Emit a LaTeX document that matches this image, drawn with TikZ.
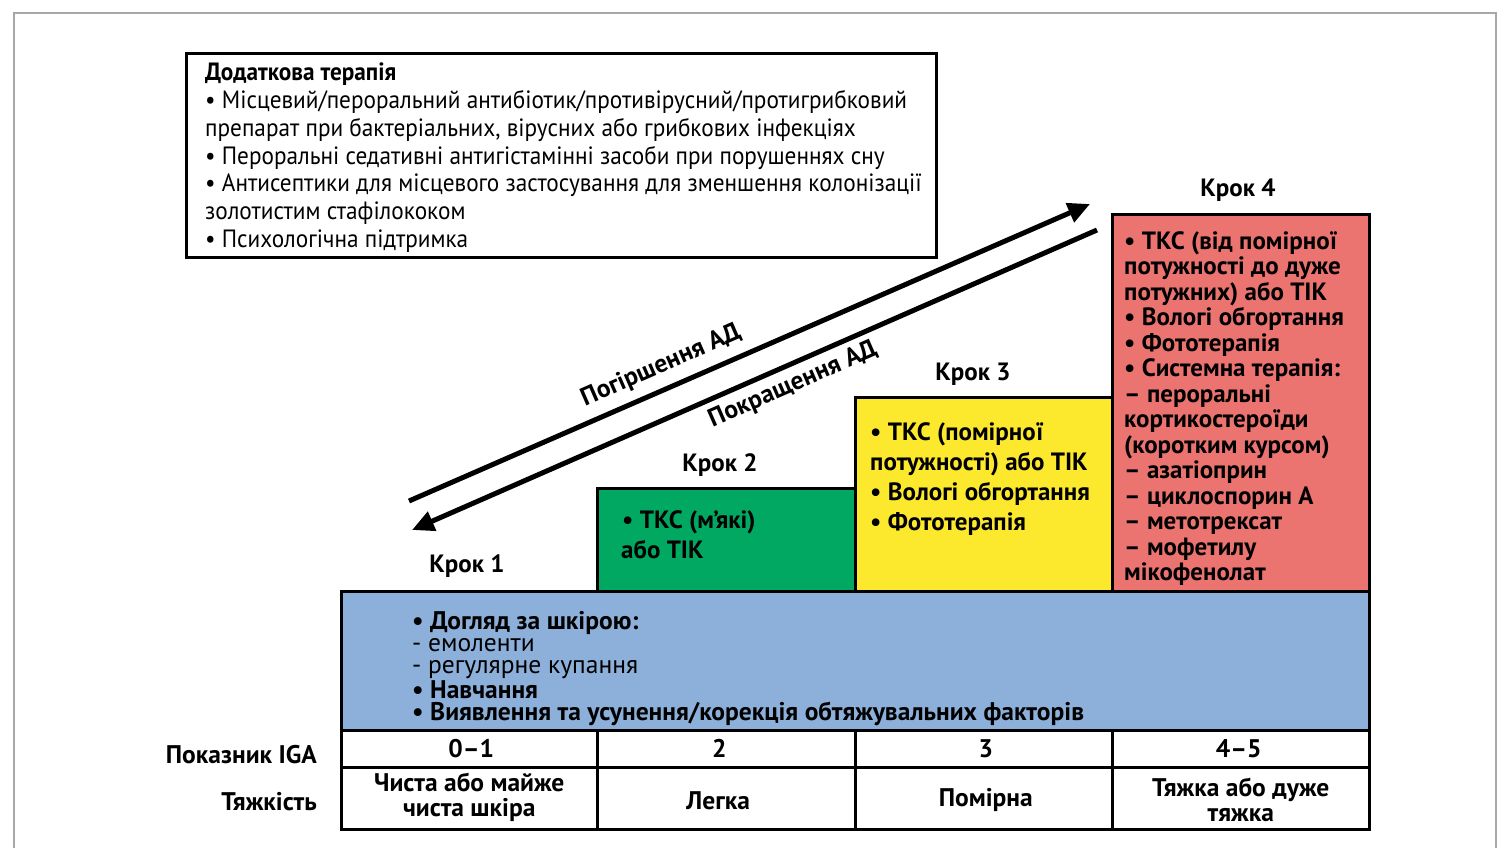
\documentclass[tikz,border=0pt]{standalone}
\usepackage{fontspec}
\setmainfont{PT Sans}
\newfontfamily\condfont{PT Sans}[FakeStretch=0.93]
\usetikzlibrary{arrows.meta}
\definecolor{stepred}{HTML}{EC7470}
\definecolor{stepyellow}{HTML}{FCE82C}
\definecolor{stepgreen}{HTML}{00A862}
\definecolor{stepblue}{HTML}{8CB0DA}
\definecolor{framegray}{HTML}{A8A8A8}
\tikzset{
  boxline/.style={draw=black, line width=2.5pt, inner sep=0pt, anchor=north west},
  txt/.style={inner sep=0pt, align=left, anchor=north west},
  steplabel/.style={inner sep=0pt, font=\bfseries\fontsize{25}{28}\selectfont},
  stepfont/.style={font=\bfseries\fontsize{25}{25.5}\selectfont},
  cellfont/.style={font=\bfseries\fontsize{25.5}{25}\selectfont, align=center, inner sep=0pt},
  bigarrow/.style={line width=5pt, -{Triangle[length=22pt,width=20pt]}},
}
\begin{document}
\begin{tikzpicture}[x=1pt,y=-1pt]
\useasboundingbox (0,0) rectangle (1504,847);
\fill[white] (0,0) rectangle (1504,847);
% frame
\draw[framegray, line width=1.5pt] (14,850) -- (14,13) -- (1496,13) -- (1496,850);

% top box
\node[boxline, minimum width=750pt, minimum height=204pt] (addbox) at (185,52) {};
\node[txt, font=\condfont\fontsize{25}{27.7}\selectfont] (addtxt) at (205,63)
 {\textbf{Додаткова терапія}\\
 • Місцевий/пероральний антибіотик/противірусний/протигрибковий\\
 препарат при бактеріальних, вірусних або грибкових інфекціях\\
 • Пероральні седативні антигістамінні засоби при порушеннях сну\\
 • Антисептики для місцевого застосування для зменшення колонізації\\
 золотистим стафілококом\\
 • Психологічна підтримка};

% step boxes
\node[boxline, fill=stepgreen, minimum width=258pt, minimum height=103pt] (s2) at (596,487) {};
\node[boxline, fill=stepyellow, minimum width=257pt, minimum height=194pt] (s3) at (854,396) {};
\node[boxline, fill=stepred, minimum width=257pt, minimum height=377pt] (s4) at (1111,213) {};
\node[boxline, fill=stepblue, minimum width=1028pt, minimum height=139pt] (s1) at (340,590) {};

% table
\node[boxline, minimum width=256pt, minimum height=37pt] (c01) at (340,729) {};
\node[boxline, minimum width=258pt, minimum height=37pt] (c2) at (596,729) {};
\node[boxline, minimum width=257pt, minimum height=37pt] (c3) at (854,729) {};
\node[boxline, minimum width=257pt, minimum height=37pt] (c45) at (1111,729) {};
\node[boxline, minimum width=256pt, minimum height=62pt] (d01) at (340,766) {};
\node[boxline, minimum width=258pt, minimum height=62pt] (d2) at (596,766) {};
\node[boxline, minimum width=257pt, minimum height=62pt] (d3) at (854,766) {};
\node[boxline, minimum width=257pt, minimum height=62pt] (d45) at (1111,766) {};

\node[cellfont] at ([xshift=2pt]c01.center) {0–1};
\node[cellfont] at ([xshift=-7pt]c2.center) {2};
\node[cellfont] at ([xshift=2pt]c3.center) {3};
\node[cellfont] at ([xshift=-2pt]c45.center) {4–5};
\node[cellfont] at ([yshift=1pt]d01.center) {Чиста або майже\\чиста шкіра};
\node[cellfont] at ([xshift=-8pt,yshift=-2pt]d2.center) {Легка};
\node[cellfont] at ([xshift=2pt,yshift=-2pt]d3.center) {Помірна};
\node[cellfont] at ([yshift=-2pt]d45.center) {Тяжка або дуже\\тяжка};

\node[cellfont, anchor=east] (iga) at (317,755) {Показник IGA};
\node[cellfont, anchor=east] (sev) at (317,802) {Тяжкість};

% step labels
\node[steplabel] (k1) at (467,566) {Крок 1};
\node[steplabel] (k2) at (720,465) {Крок 2};
\node[steplabel] (k3) at (973,374) {Крок 3};
\node[steplabel] (k4) at (1238,190) {Крок 4};

% step texts
\node[txt, font=\bfseries\fontsize{25}{30}\selectfont] (t2) at (621,510) {\hspace*{1pt}• ТКС (м’які)\\або ТІК};
\node[txt, font=\bfseries\fontsize{25}{30.3}\selectfont] (t3) at (870,422)
 {• ТКС (помірної\\потужності) або ТІК\\• Вологі обгортання\\• Фототерапія};
\node[txt, stepfont] (t4) at (1124,231)
 {• ТКС (від помірної\\потужності до дуже\\потужних) або ТІК\\• Вологі обгортання\\• Фототерапія\\• Системна терапія:\\– пероральні\\кортикостероїди\\(коротким курсом)\\– азатіоприн\\– циклоспорин А\\– метотрексат\\– мофетилу\\мікофенолат};
\node[txt, font=\fontsize{25.5}{22.3}\selectfont] (t1) at (412,611)
 {\textbf{• Догляд за шкірою:}\\- емоленти\\- регулярне купання\\\textbf{• Навчання}\\\textbf{• Виявлення та усунення/корекція обтяжувальних факторів}};

% arrows
\coordinate (wa) at (409,501);
\coordinate (wb) at (1090,204);
\coordinate (ia) at (1097,230);
\coordinate (ib) at (412,530);
\draw[bigarrow] (wa) -- (wb);
\draw[bigarrow] (ia) -- (ib);
\node[steplabel, font=\bfseries\fontsize{25.5}{27}\selectfont, rotate=23.6] (worse) at (661,366) {Погіршення АД};
\node[steplabel, font=\bfseries\fontsize{25.5}{27}\selectfont, rotate=23.6] (better) at (793,385) {Покращення АД};
\end{tikzpicture}
\end{document}
